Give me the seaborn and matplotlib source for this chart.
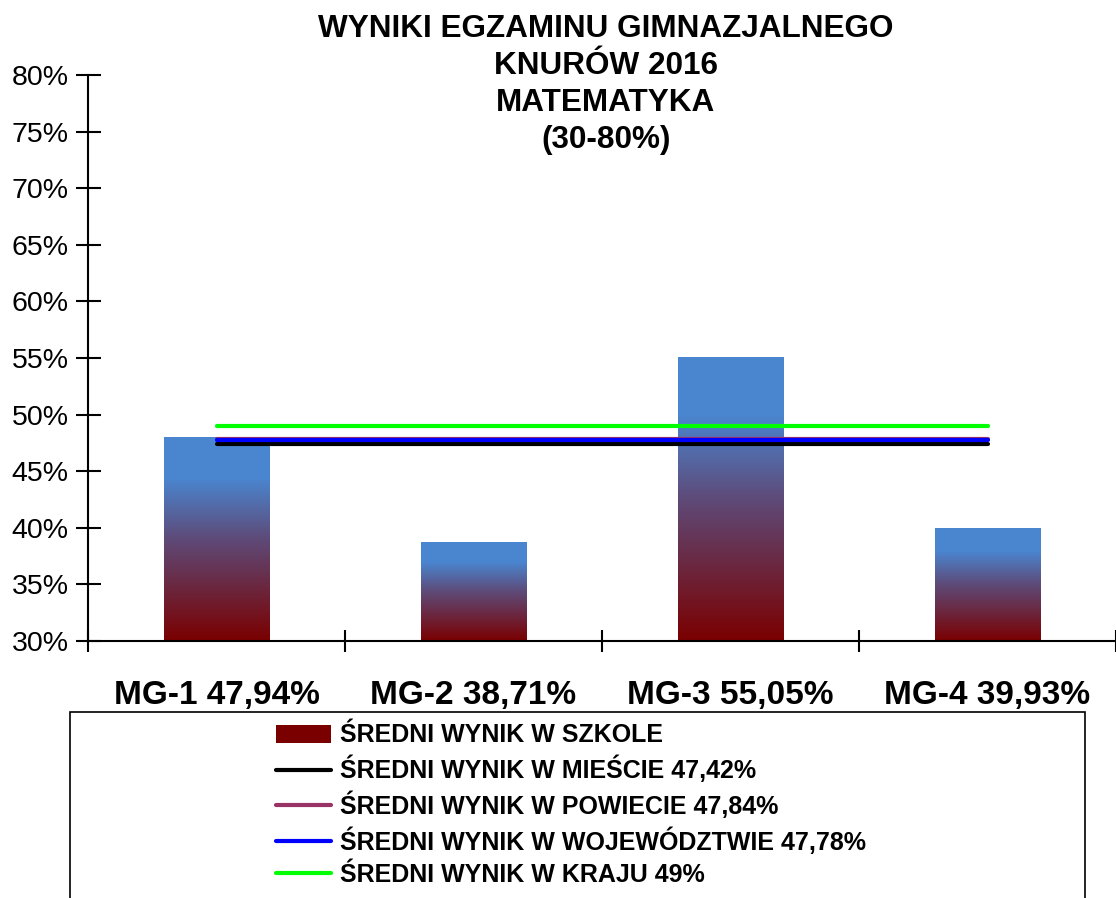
import numpy as np
import pandas as pd
import matplotlib
matplotlib.use('Agg')
import matplotlib.pyplot as plt
import seaborn as sns
from matplotlib.colors import LinearSegmentedColormap
from matplotlib.patches import Patch, Rectangle
from matplotlib.lines import Line2D

# data
classes = ['MG-1', 'MG-2', 'MG-3', 'MG-4']
school = [47.94, 38.71, 55.05, 39.93]
city = 47.42
county = 47.84
region = 47.78
country = 49.0

labels = ['{} {}%'.format(c, ('%.2f' % v).replace('.', ',')) for c, v in zip(classes, school)]
df = pd.DataFrame({'klasa': labels, 'wynik': school})

sns.set_style('white')
plt.rcParams['font.family'] = ['Liberation Sans', 'DejaVu Sans']
plt.rcParams['text.color'] = 'black'
plt.rcParams['xtick.color'] = 'black'
plt.rcParams['ytick.color'] = 'black'

fig = plt.figure(figsize=(11.16, 8.98), dpi=100)
ax = fig.add_axes([88 / 1116, 1 - 641 / 898, 1028 / 1116, 566 / 898])

sns.barplot(data=df, x='klasa', y='wynik', color='#4a86d0', width=0.41, ax=ax)

# gradient fill: blue at the top of each bar, dark red at its base
cmap = LinearSegmentedColormap.from_list('bar', [(0, '#7a0000'), (0.5, '#5e4a78'), (0.8, '#4a86d0'), (1, '#4a86d0')])
grad = np.linspace(0, 1, 256).reshape(-1, 1)
for p in ax.patches:
    x0, w = p.get_x(), p.get_width()
    y0, h = p.get_y(), p.get_height()
    ax.imshow(grad, extent=[x0, x0 + w, 30, y0 + h], origin='lower',
              cmap=cmap, aspect='auto', zorder=p.get_zorder())
    p.set_visible(False)

xs = [0, len(classes) - 1]
ax.plot(xs, [city] * 2, color='black', lw=3, zorder=5)
ax.plot(xs, [county] * 2, color='#993366', lw=3, zorder=5)
ax.plot(xs, [region] * 2, color='#0000ff', lw=3, zorder=5)
ax.plot(xs, [country] * 2, color='#00ff00', lw=3, zorder=5)

ax.set_xlim(-0.5, 3.5)
ax.set_ylim(30, 80)
ax.set_yticks(range(30, 81, 5))
ax.set_yticklabels(['%d%%' % v for v in range(30, 81, 5)], fontsize=20.5)
ax.set_xticks([-0.5, 0.5, 1.5, 2.5, 3.5])
ax.set_xticklabels([])
ax.set_xticks(range(4), minor=True)
ax.set_xticklabels(labels, minor=True, fontsize=24, fontweight='bold')
ax.tick_params(axis='x', which='major', direction='inout', length=16, width=1.5, bottom=True)
ax.tick_params(axis='x', which='minor', length=0, pad=28)
ax.tick_params(axis='y', direction='inout', length=18, width=1.5, left=True, pad=5)
ax.set_xlabel('')
ax.set_ylabel('')
sns.despine(ax=ax, top=True, right=True)
for s in ['left', 'bottom']:
    ax.spines[s].set_linewidth(1.5)
    ax.spines[s].set_color('black')

fig.text(606 / 1116, 1 - 14 / 898, 'WYNIKI EGZAMINU GIMNAZJALNEGO\nKNURÓW 2016\nMATEMATYKA\n(30-80%)',
         ha='center', va='top', fontsize=22.7, fontweight='bold', linespacing=1.3)

# legend box running off the bottom edge
fig.patches.append(Rectangle((70 / 1116, -0.05), 1015 / 1116, 0.05 + 1 - 712 / 898,
                             transform=fig.transFigure, fill=False, edgecolor='black', lw=1.2))
handles = [
    Patch(facecolor='#7a0000', edgecolor='none'),
    Line2D([], [], color='black', lw=3),
    Line2D([], [], color='#993366', lw=3),
    Line2D([], [], color='#0000ff', lw=3),
    Line2D([], [], color='#00ff00', lw=3),
]
names = ['ŚREDNI WYNIK W SZKOLE', 'ŚREDNI WYNIK W MIEŚCIE 47,42%', 'ŚREDNI WYNIK W POWIECIE 47,84%',
         'ŚREDNI WYNIK W WOJEWÓDZTWIE 47,78%', 'ŚREDNI WYNIK W KRAJU 49%']
fig.legend(handles, names, loc='upper left', bbox_to_anchor=(253 / 1116, 1 - 701 / 898),
           frameon=False, prop={'weight': 'bold', 'size': 18}, handlelength=2.2,
           handletextpad=0.4, labelspacing=0.33)

fig.savefig('out.png', dpi=100)
